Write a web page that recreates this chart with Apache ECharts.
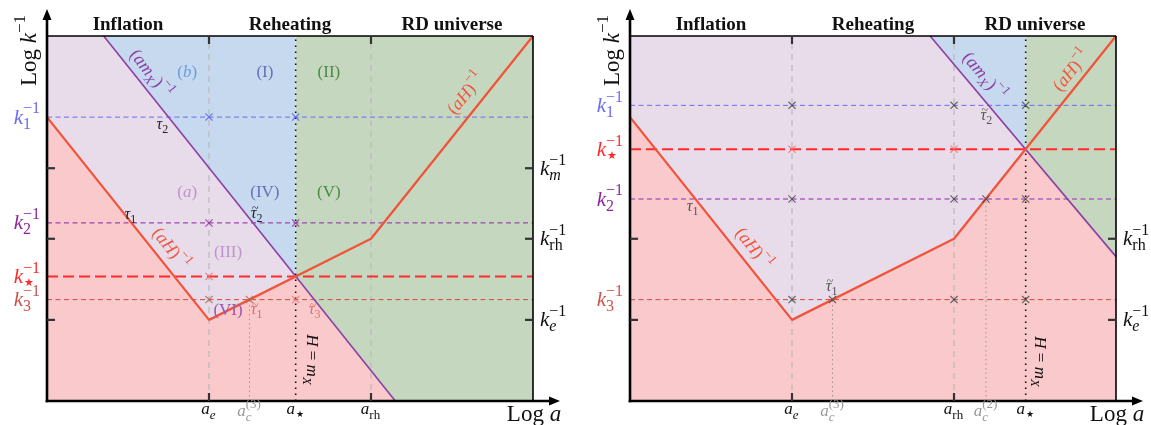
<!DOCTYPE html>
<html><head><meta charset="utf-8">
<script src="https://cdn.jsdelivr.net/npm/echarts@6/dist/echarts.min.js"></script>
<style>html,body{margin:0;padding:0;background:#fff}#c{width:1151px;height:425px}</style>
</head><body><div id="c"></div>
<script>
// ---------------- DATA ----------------
const PHASES = ['Inflation', 'Reheating', 'RD universe'];
const PHASE_X = [2, 6, 10];
const X_MAX = 12, Y_MAX = 9;

// Left panel
const L_AH = [[0, 7], [4, 2], [8, 4], [12, 9]];
const L_AMX = [[1.4, 9], [8.6, 0]];
const L_A = { e: 4, c3: 5, star: 6.14, rh: 8 };
const L_K = { k1: 7, k2: 4.39, star: 3.07, k3: 2.5 };
const L_LEFT_TICKS = [5.74, 4, 2];
const L_RIGHT_TICKS = [5.74, 4, 2];
const L_PINK = [[0, 0], [0, 7], [4, 2], [6.14, 3.07], [8.6, 0]];
const L_LAV = [[0, 7], [0, 9], [1.4, 9], [6.14, 3.07], [4, 2]];
const L_BLUE = [[1.4, 9], [6.14, 9], [6.14, 3.07]];
const L_GREEN = [[6.14, 9], [12, 9], [12, 0], [8.6, 0], [6.14, 3.07]];
const L_MK_BLUE = [[4, 7], [6.14, 7]];
const L_MK_PURPLE = [[4, 4.39], [6.14, 4.39]];
const L_MK_RED = [[4, 3.07]];
const L_MK_BROWN = [[4, 2.5], [5, 2.5]];
const L_MK_PINK = [[6.14, 2.5]];

// Right panel
const R_AH = [[0, 7], [4, 2], [8, 4], [12, 9]];
const R_AMX = [[7.41, 9], [12, 3.56]];
const R_A = { e: 4, c3: 5, rh: 8, c2: 8.79, star: 9.77 };
const R_K = { k1: 7.29, star: 6.21, k2: 4.98, k3: 2.5 };
const R_LEFT_TICKS = [4, 2];
const R_RIGHT_TICKS = [4, 2];
const R_PINK = [[0, 0], [0, 7], [4, 2], [8, 4], [9.77, 6.21], [12, 3.56], [12, 0]];
const R_LAV = [[0, 7], [0, 9], [7.41, 9], [9.77, 6.21], [8, 4], [4, 2]];
const R_BLUE = [[7.41, 9], [9.77, 9], [9.77, 6.21]];
const R_GREEN = [[9.77, 9], [12, 9], [12, 3.56], [9.77, 6.21]];
const R_MK_DARK = [[4, 7.29], [8, 7.29], [9.77, 7.29], [4, 4.98], [8, 4.98], [8.79, 4.98], [9.77, 4.98], [4, 2.5], [5, 2.5], [8, 2.5], [9.77, 2.5]];
const R_MK_RED = [[4, 6.21], [8, 6.21]];

// ---------------- STYLE ----------------
const C = {
  pink: '#f9c9cc', lav: '#e8dcea', blue: '#c6d9ee', green: '#c5d8bf',
  red: '#f0553c', purple: '#8e3fa3', k1: '#6b6cf0', k2L: '#9a48ac', k2R: '#b060c0',
  kstar: '#ff2b2b', k3: '#d0483a', gray: '#bcbcbc'
};
const SERIF = '"Liberation Serif", "DejaVu Serif", serif';
const XPATH = 'path://M0,1L1,0L5,4L9,0L10,1L6,5L10,9L9,10L5,6L1,10L0,9L4,5Z';
const STAR = '★';

const chart = echarts.init(document.getElementById('c'), null, { renderer: 'canvas' });
const grids = [
  { left: 47, top: 36, width: 486, height: 365 },
  { left: 630, top: 36, width: 486, height: 365 }
];

function poly(g, pts, color) {
  return {
    type: 'custom', xAxisIndex: g, yAxisIndex: g, z: 1, silent: true, data: [[0, 0]], clip: false,
    renderItem: (p, api) => ({ type: 'polygon', shape: { points: pts.map(q => api.coord(q)) }, style: { fill: color } })
  };
}
function line(g, pts, color, width, type, z) {
  return {
    type: 'line', xAxisIndex: g, yAxisIndex: g, data: pts, showSymbol: false, symbol: 'none', silent: true,
    z: z || 3, animation: false, lineStyle: { color: color, width: width, type: type || 'solid' }
  };
}
function marks(g, pts, color) {
  return {
    type: 'scatter', xAxisIndex: g, yAxisIndex: g, data: pts, symbol: XPATH, symbolSize: 8, z: 6, silent: true,
    itemStyle: { color: color }
  };
}
function hline(g, y, color, w, dash) { return line(g, [[0, y], [X_MAX, y]], color, w, dash, 4); }
function vline(g, x, y1, color, w, dash) { return line(g, [[x, 0], [x, y1]], color, w, dash, 2); }

const D = [5, 3.5];
const series = [
  poly(0, L_PINK, C.pink), poly(0, L_LAV, C.lav), poly(0, L_BLUE, C.blue), poly(0, L_GREEN, C.green),
  poly(1, R_PINK, C.pink), poly(1, R_LAV, C.lav), poly(1, R_BLUE, C.blue), poly(1, R_GREEN, C.green),
  vline(0, L_A.e, Y_MAX, C.gray, 1.3, [6, 5]),
  vline(0, L_A.rh, Y_MAX, C.gray, 1.3, [6, 5]),
  vline(0, L_A.c3, L_K.k3, '#999', 1, [1.5, 3]),
  vline(0, L_A.star, Y_MAX, '#111', 1.6, [1.5, 4.5]),
  vline(1, R_A.e, Y_MAX, C.gray, 1.3, [6, 5]),
  vline(1, R_A.rh, Y_MAX, C.gray, 1.3, [6, 5]),
  vline(1, R_A.c3, R_K.k3, '#999', 1, [1.5, 3]),
  vline(1, R_A.c2, R_K.k2, '#999', 1, [1.5, 3]),
  vline(1, R_A.star, Y_MAX, '#111', 1.6, [1.5, 4.5]),
  hline(0, L_K.k1, C.k1, 1, D), hline(0, L_K.k2, C.k2L, 1.2, D),
  hline(0, L_K.k3, C.k3, 1, D), hline(0, L_K.star, C.kstar, 2, [11, 5]),
  hline(1, R_K.k1, C.k1, 1, D), hline(1, R_K.k2, C.k2R, 1.4, D),
  hline(1, R_K.k3, C.k3, 1, D), hline(1, R_K.star, C.kstar, 2, [11, 5]),
  line(0, L_AMX, C.purple, 1.6, 'solid', 5), line(0, L_AH, C.red, 2.3, 'solid', 5),
  line(1, R_AMX, C.purple, 1.6, 'solid', 5), line(1, R_AH, C.red, 2.3, 'solid', 5),
  marks(0, L_MK_BLUE, '#5a5cf0'), marks(0, L_MK_PURPLE, '#8a2a9c'), marks(0, L_MK_RED, '#f06a6a'),
  marks(0, L_MK_BROWN, '#a8664c'), marks(0, L_MK_PINK, '#f07a7a'),
  marks(1, R_MK_DARK, '#444'), marks(1, R_MK_RED, '#ff6a6a')
];

chart.setOption({
  animation: false,
  grid: grids,
  xAxis: grids.map((_, i) => ({ type: 'value', gridIndex: i, min: 0, max: X_MAX, show: false })),
  yAxis: grids.map((_, i) => ({ type: 'value', gridIndex: i, min: 0, max: Y_MAX, show: false })),
  series: series
});

// ---------------- TEXT / FRAME ----------------
const cv = document.createElement('canvas').getContext('2d');
function F(size, it, bold) { return (it ? 'italic ' : '') + (bold ? 'bold ' : '') + size + 'px ' + SERIF; }
function W(t, f) { cv.font = f; return cv.measureText(t).width; }
function mathKids(tokens, size, color, align, bold) {
  const kids = []; let x = 0; const ss = Math.round(size * 0.74);
  const add = (t, f, xx, dy, c) => kids.push({
    type: 'text', x: xx, y: dy, silent: true, z: 100,
    style: { text: t, font: f, fill: c || color, align: 'left', verticalAlign: 'middle', textAlign: 'left', textVerticalAlign: 'middle' }
  });
  for (const tk of tokens) {
    if (typeof tk === 'string') { const f = F(size, false, bold); add(tk, f, x, 0); x += W(tk, f); }
    else if (tk.i !== undefined) {
      const f = F(size, true, bold); add(tk.i, f, x, 0); const w = W(tk.i, f);
      if (tk.tilde) { const tf = F(Math.round(size * 0.72), false); const tw = W('~', tf); add('~', tf, x + w / 2 - tw / 2 + 1.5, -size * 0.3); }
      x += w + (tk.k || 0);
    }
    else if (tk.sp) { x += tk.sp; }
    else {
      let w = 0; const dx = tk.dx || 0;
      if (tk.sup !== undefined) { const f = F(ss, !!tk.supI); add(tk.sup, f, x + dx, -size * 0.42); w = Math.max(w, W(tk.sup, f) + dx); }
      if (tk.sub !== undefined) {
        const isStar = tk.sub === STAR;
        const f = F(isStar ? Math.round(ss * 0.7) : ss, !!tk.subI);
        add(tk.sub, f, x + (isStar ? 1 : 0), size * (isStar ? 0.26 : 0.3));
        w = Math.max(w, W(tk.sub, f) + (isStar ? 1 : 0));
      }
      x += w + 1;
    }
  }
  const off = align === 'left' ? 0 : align === 'right' ? -x : -x / 2;
  kids.forEach(k => k.x += off);
  return kids;
}
function label(p, tokens, size, color, o) {
  o = o || {};
  return { type: 'group', x: p[0], y: p[1], rotation: o.rot || 0, z: 100, silent: true,
    children: mathKids(tokens, size, color, o.align || 'center', o.bold) };
}
function P(g, x, y) { return chart.convertToPixel({ gridIndex: g }, [x, y]); }
function seg(a, b, w, c) { return { type: 'line', z: 90, silent: true, shape: { x1: a[0], y1: a[1], x2: b[0], y2: b[1] }, style: { stroke: c || '#000', lineWidth: w } }; }
function tri(pts) { return { type: 'polygon', z: 90, silent: true, shape: { points: pts }, style: { fill: '#000' } }; }

const G = [];
const K = (sub, subI) => [{ i: 'k' }, { sup: '−1', sub: sub, subI: subI }];
const A = (sub, subI, sup) => [{ i: 'a' }, { sub: sub, subI: subI, sup: sup }];
const panels = [
  { g: 0, A: L_A, K: L_K, lt: L_LEFT_TICKS, rt: L_RIGHT_TICKS,
    kLeft: [[L_K.k1, '1', false, C.k1], [L_K.k2, '2', false, '#8a2a9c'], [L_K.star, STAR, false, C.kstar], [L_K.k3, '3', false, '#c8554a']],
    kRight: [[5.74, 'm', true], [4, 'rh', false], [2, 'e', true]],
    aLabs: [[L_A.e, A('e', true), '#111'], [L_A.c3, A('c', true, '(3)'), '#9a9a9a'], [L_A.star, A(STAR), '#111'], [L_A.rh, A('rh'), '#111']] },
  { g: 1, A: R_A, K: R_K, lt: R_LEFT_TICKS, rt: R_RIGHT_TICKS,
    kLeft: [[R_K.k1, '1', false, C.k1], [R_K.star, STAR, false, C.kstar], [R_K.k2, '2', false, '#8a2a9c'], [R_K.k3, '3', false, '#c8554a']],
    kRight: [[4, 'rh', false], [2, 'e', true]],
    aLabs: [[R_A.e, A('e', true), '#111'], [R_A.c3, A('c', true, '(3)'), '#9a9a9a'], [R_A.rh, A('rh'), '#111'], [R_A.c2, A('c', true, '(2)'), '#9a9a9a'], [R_A.star, A(STAR), '#111']] }
];
panels.forEach(pn => {
  const g = pn.g;
  const [x0, y0] = P(g, 0, 0), [x1, y1] = P(g, X_MAX, Y_MAX);
  G.push(seg([x0, y1], [x1, y1], 1.6));
  G.push(seg([x1, y1], [x1, y0], 1.6));
  G.push(seg([x0, y0 + 1.3], [x0, y1 - 18], 2.6));
  G.push(tri([[x0, y1 - 27], [x0 - 4.5, y1 - 16], [x0 + 4.5, y1 - 16]]));
  G.push(seg([x0 - 1.3, y0], [x1 + 16, y0], 2.6));
  G.push(tri([[x1 + 27, y0], [x1 + 16, y0 - 4.5], [x1 + 16, y0 + 4.5]]));
  pn.lt.forEach(v => { const p = P(g, 0, v); G.push(seg([x0, p[1]], [x0 + 8, p[1]], 2.2, '#333')); });
  pn.rt.forEach(v => { const p = P(g, X_MAX, v); G.push(seg([x1 - 8, p[1]], [x1, p[1]], 2.2, '#333')); });
  [pn.A.e, pn.A.rh].forEach(v => {
    const p = P(g, v, 0);
    G.push(seg([p[0], y1], [p[0], y1 + 8], 2.2, '#333'));
    G.push(seg([p[0], y0 - 8], [p[0], y0], 2.2, '#333'));
  });
  PHASES.forEach((t, i) => { const p = P(g, PHASE_X[i], Y_MAX); G.push(label([p[0], 25], [t], 19, '#111', { bold: true })); });
  G.push(label([x0 - 17, 50], ['Log ', { i: 'k' }, { sup: '−1' }], 23, '#111', { rot: Math.PI / 2 }));
  G.push(label([x1 + 1, 415], ['Log ', { i: 'a' }], 23, '#111'));
  pn.kLeft.forEach(([v, s, si, c]) => { const p = P(g, 0, v); G.push(label([x0 - 6, p[1] + 1], K(s, si), 21, c, { align: 'right' })); });
  pn.kRight.forEach(([v, s, si]) => { const p = P(g, X_MAX, v); G.push(label([x1 + 7, p[1] + 1], K(s, si), 21, '#111', { align: 'left' })); });
  pn.aLabs.forEach(([v, tk, c]) => { const p = P(g, v, 0); G.push(label([p[0], c === '#111' ? 410 : 412], tk, 17, c)); });
});

const L = (x, y) => P(0, x, y), R = (x, y) => P(1, x, y);
const ROT = Math.atan(1.25);
[
  [[3.46, 8.11], ['(', { i: 'b' }, ')'], '#6d9ede'],
  [[5.38, 8.11], ['(I)'], '#6670b8'],
  [[6.96, 8.11], ['(II)'], '#4a8c44'],
  [[3.46, 5.13], ['(', { i: 'a' }, ')'], '#bf94cc'],
  [[5.38, 5.13], ['(IV)'], '#6670b8'],
  [[6.96, 5.13], ['(V)'], '#4a8c44'],
  [[4.47, 3.65], ['(III)'], '#bf94cc'],
  [[4.47, 2.24], ['(VI)'], '#9a58ac']
].forEach(([p, t, c]) => G.push(label(L(p[0], p[1]), t, 17, c)));
G.push(label(L(2.86, 6.80), [{ i: 'τ' }, { sub: '2' }], 16, '#222'));
G.push(label(L(2.07, 4.59), [{ i: 'τ' }, { sub: '1' }], 16, '#222'));
G.push(label(L(5.19, 4.61), [{ i: 'τ', tilde: true }, { sub: '2' }], 16, '#222'));
G.push(label(L(5.19, 2.24), [{ i: 'τ', tilde: true }, { sub: '1' }], 16, '#d07070'));
G.push(label(L(6.62, 2.24), [{ i: 'τ', tilde: true }, { sub: '3' }], 16, '#e07070'));
G.push(label(L(2.56, 8.05), ['(', { i: 'a' }, { i: 'm' }, { sub: 'X', subI: true }, ')', { sup: '−1' }], 18, C.purple, { rot: -ROT }));
G.push(label(L(3.05, 3.74), ['(', { i: 'a' }, { i: 'H' }, ')', { sup: '−1' }], 18, C.red, { rot: -ROT }));
G.push(label(L(10.36, 7.58), ['(', { i: 'a' }, { i: 'H' }, ')', { sup: '−1' }], 18, C.red, { rot: ROT }));
G.push(label(L(6.52, 1.01), [{ i: 'H' }, ' = ', { i: 'm' }, { sub: 'X', subI: true }], 17, '#111', { rot: -Math.PI / 2 }));
G.push(label(R(1.56, 4.78), [{ i: 'τ' }, { sub: '1' }], 16, '#555'));
G.push(label(R(4.99, 2.81), [{ i: 'τ', tilde: true }, { sub: '1' }], 16, '#555'));
G.push(label(R(8.81, 7.03), [{ i: 'τ', tilde: true }, { sub: '2' }], 16, '#555'));
G.push(label(R(8.74, 7.99), ['(', { i: 'a' }, { i: 'm' }, { sub: 'X', subI: true }, ')', { sup: '−1' }], 18, C.purple, { rot: -Math.atan(1.185) }));
G.push(label(R(10.92, 8.15), ['(', { i: 'a' }, { i: 'H' }, ')', { sup: '−1' }], 18, C.red, { rot: ROT }));
G.push(label(R(3.05, 3.74), ['(', { i: 'a' }, { i: 'H' }, ')', { sup: '−1' }], 18, C.red, { rot: -ROT }));
G.push(label(R(10.10, 0.96), [{ i: 'H' }, ' = ', { i: 'm' }, { sub: 'X', subI: true }], 17, '#111', { rot: -Math.PI / 2 }));

chart.setOption({ graphic: { elements: G } });
</script>
</body></html>
